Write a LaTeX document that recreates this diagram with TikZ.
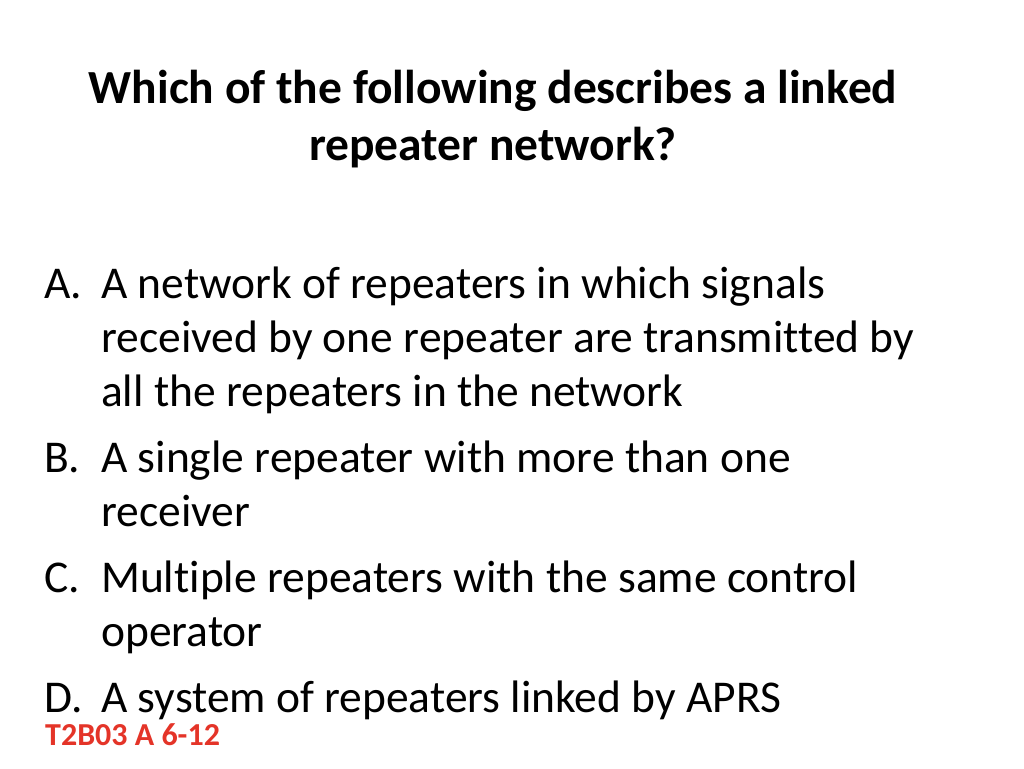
\documentclass[tikz,border=0pt]{standalone}
\usepackage{fontspec}
\setmainfont[Ligatures={NoCommon}]{Carlito}
\begin{document}
\begin{tikzpicture}[x=1pt,y=-1pt,
  ttl/.style={anchor=base,font=\fontsize{47.5}{56}\selectfont\bfseries,inner sep=0},
  bl/.style={anchor=base west,font=\fontsize{45.5}{54}\selectfont,inner sep=0}]
\path[use as bounding box] (0,0) rectangle (1024,768);
\node[ttl] (t1) at (493,103) {Which of the following describes a linked};
\node[ttl] (t2) at (493,160) {repeater network?};
\node[bl] (a) at (44,298) {A.};
\node[bl] (a1) at (101,298) {A network of repeaters in which signals};
\node[bl] (a2) at (101,352) {received by one repeater are transmitted by};
\node[bl] (a3) at (101,406) {all the repeaters in the network};
\node[bl] (b) at (44,472) {B.};
\node[bl] (b1) at (101,472) {A single repeater with more than one};
\node[bl] (b2) at (101,526) {receiver};
\node[bl] (c) at (44,592) {C.};
\node[bl] (c1) at (101,592) {Multiple repeaters with the same control};
\node[bl] (c2) at (101,646) {operator};
\node[bl] (d) at (44,712) {D.};
\node[bl] (d1) at (101,712) {A system of repeaters linked by APRS};
\node[anchor=base west,inner sep=0,font=\fontsize{32}{36}\selectfont\bfseries,text={rgb,255:red,228;green,52;blue,40}] (lbl) at (45,745) {T2B03 A 6-12};
\end{tikzpicture}
\end{document}
